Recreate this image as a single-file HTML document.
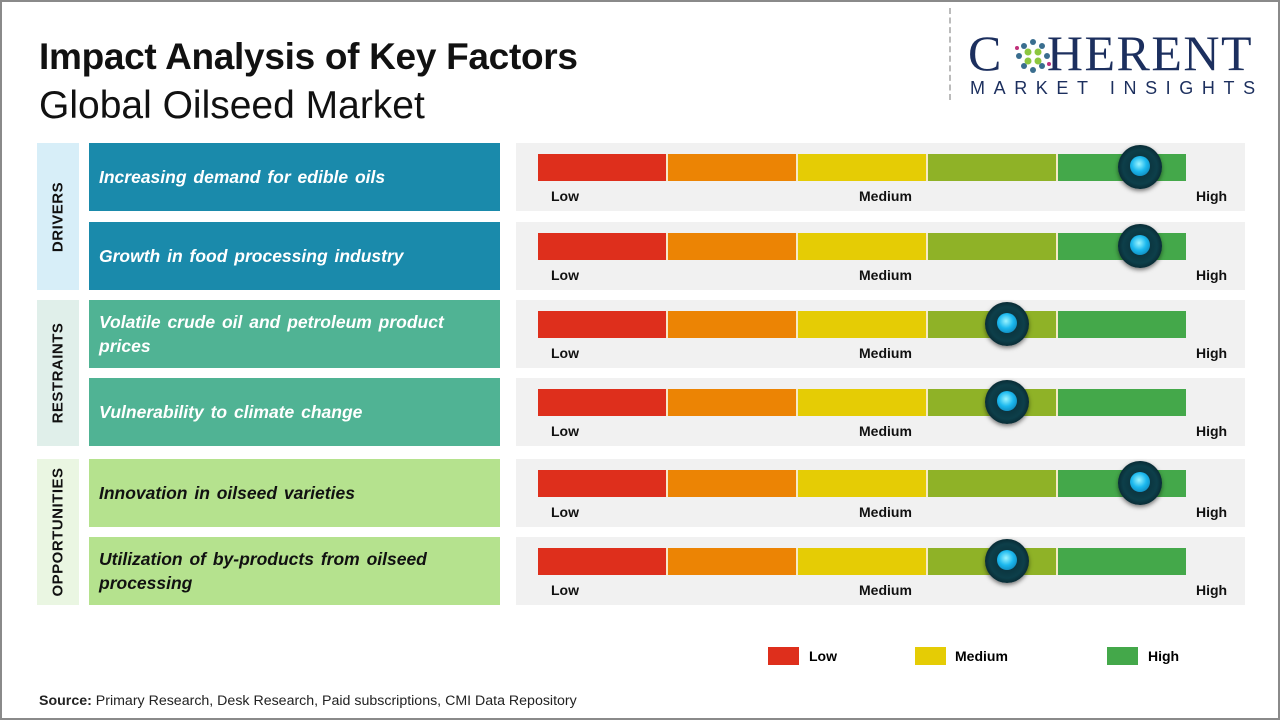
<!DOCTYPE html>
<html><head><meta charset="utf-8"><style>
*{margin:0;padding:0;box-sizing:border-box}
body{width:1280px;height:720px;position:relative;background:#fff;font-family:"Liberation Sans",sans-serif;overflow:hidden}
.frame{position:absolute;left:0;top:0;width:1280px;height:720px;border:2px solid #8a8a8a}
.a{position:absolute}
.cat{position:absolute;left:37px;width:42px}
.cat span{position:absolute;left:50%;top:50%;transform:translate(-50%,-50%) rotate(-90deg);font-weight:bold;font-size:15px;letter-spacing:0.5px;white-space:nowrap;color:#111}
.item{position:absolute;left:89px;width:411px;height:68px;display:flex;align-items:center;padding-left:10px;padding-right:30px;font-weight:bold;font-style:italic;font-size:17.5px;line-height:24px;word-spacing:2px}
.panel{position:absolute;left:516px;width:729px;height:68px;background:#f1f1f1}
.bar{position:absolute;left:22px;top:11px;height:27px;width:648px;display:flex}
.bar div{flex:1;border-right:2px solid #f6e9c8}
.bar div:last-child{border-right:none}
.lbl{position:absolute;top:45px;font-weight:bold;font-size:14px;color:#111}
.knob{position:absolute;width:44px;height:44px;border-radius:50%;background:radial-gradient(circle at 50% 50%,#0a2a33 0,#0d3f4a 55%,#082730 75%,#355 100%);box-shadow:0 2px 4px rgba(0,0,0,.5)}
.knob:after{content:"";position:absolute;left:12px;top:11px;width:20px;height:20px;border-radius:50%;background:radial-gradient(circle at 45% 40%,#9cf4ff 0,#1bb8ee 45%,#0a6fa0 100%)}
</style></head><body>
<div class="frame"></div>
<div class="a" style="left:39px;top:36px;font-size:37px;font-weight:bold;color:#111;letter-spacing:-0.3px">Impact Analysis of Key Factors</div>
<div class="a" style="left:39px;top:84px;font-size:39px;color:#111">Global Oilseed Market</div>
<div class="a" style="left:949px;top:8px;height:92px;border-left:2px dashed #bbb"></div>
<div class="a" style="left:968px;top:28px;font-family:'Liberation Serif',serif;font-size:50px;color:#1c2f5e;letter-spacing:1.5px;line-height:50px">C<span style="display:inline-block;width:44px"></span>HERENT</div>
<svg class="a" style="left:1011px;top:36px" width="44" height="40">
<g fill="#3a6e8f"><circle cx="8" cy="20" r="3"/><circle cx="36" cy="20" r="3"/><circle cx="22" cy="6" r="3"/><circle cx="22" cy="34" r="3"/><circle cx="13" cy="10" r="3"/><circle cx="31" cy="10" r="3"/><circle cx="13" cy="30" r="3"/><circle cx="31" cy="30" r="3"/></g>
<g fill="#8cc63f"><circle cx="17" cy="16" r="3.5"/><circle cx="27" cy="16" r="3.5"/><circle cx="17" cy="25" r="3.5"/><circle cx="27" cy="25" r="3.5"/></g>
<g fill="#c0307a"><circle cx="6" cy="12" r="2"/><circle cx="38" cy="28" r="2"/></g></svg>
<div class="a" style="left:970px;top:78px;font-size:18px;color:#1c2f5e;letter-spacing:8.6px">MARKET INSIGHTS</div>

<div class="cat" style="top:143px;height:147px;background:#d7eef8"><span>DRIVERS</span></div>
<div class="cat" style="top:300px;height:146px;background:#e0efea"><span>RESTRAINTS</span></div>
<div class="cat" style="top:459px;height:146px;background:#eaf6e2"><span>OPPORTUNITIES</span></div>

<div class="item" style="top:143px;background:#1a8aab;color:#fff">Increasing demand for edible oils</div>
<div class="item" style="top:222px;background:#1a8aab;color:#fff">Growth in food processing industry</div>
<div class="item" style="top:300px;background:#50b394;color:#fff">Volatile crude oil and petroleum product prices</div>
<div class="item" style="top:378px;background:#50b394;color:#fff">Vulnerability to climate change</div>
<div class="item" style="top:459px;background:#b5e28e;color:#111">Innovation in oilseed varieties</div>
<div class="item" style="top:537px;background:#b5e28e;color:#111">Utilization of by-products from oilseed processing</div>

<div id="panels"></div>
<script>
var tops=[143,222,300,378,459,537],k=[1140,1140,1007,1007,1140,1007],h='';
tops.forEach(function(t,i){h+='<div class="panel" style="top:'+t+'px"><div class="bar"><div style="background:#de2f1c"></div><div style="background:#ec8404"></div><div style="background:#e5cc05"></div><div style="background:#8fb227"></div><div style="background:#44a84a"></div></div><div class="lbl" style="left:35px">Low</div><div class="lbl" style="left:343px">Medium</div><div class="lbl" style="left:680px">High</div><div class="knob" style="left:'+(k[i]-516-22)+'px;top:2px"></div></div>';});
document.getElementById('panels').innerHTML=h;
</script>

<div class="a" style="left:768px;top:647px;width:31px;height:18px;background:#de2f1c"></div>
<div class="a" style="left:809px;top:648px;font-weight:bold;font-size:14px">Low</div>
<div class="a" style="left:915px;top:647px;width:31px;height:18px;background:#e5cc05"></div>
<div class="a" style="left:955px;top:648px;font-weight:bold;font-size:14px">Medium</div>
<div class="a" style="left:1107px;top:647px;width:31px;height:18px;background:#44a84a"></div>
<div class="a" style="left:1148px;top:648px;font-weight:bold;font-size:14px">High</div>

<div class="a" style="left:39px;top:693px;font-size:14.2px;color:#222"><b>Source:</b> Primary Research, Desk Research, Paid subscriptions, CMI Data Repository</div>
</body></html>
